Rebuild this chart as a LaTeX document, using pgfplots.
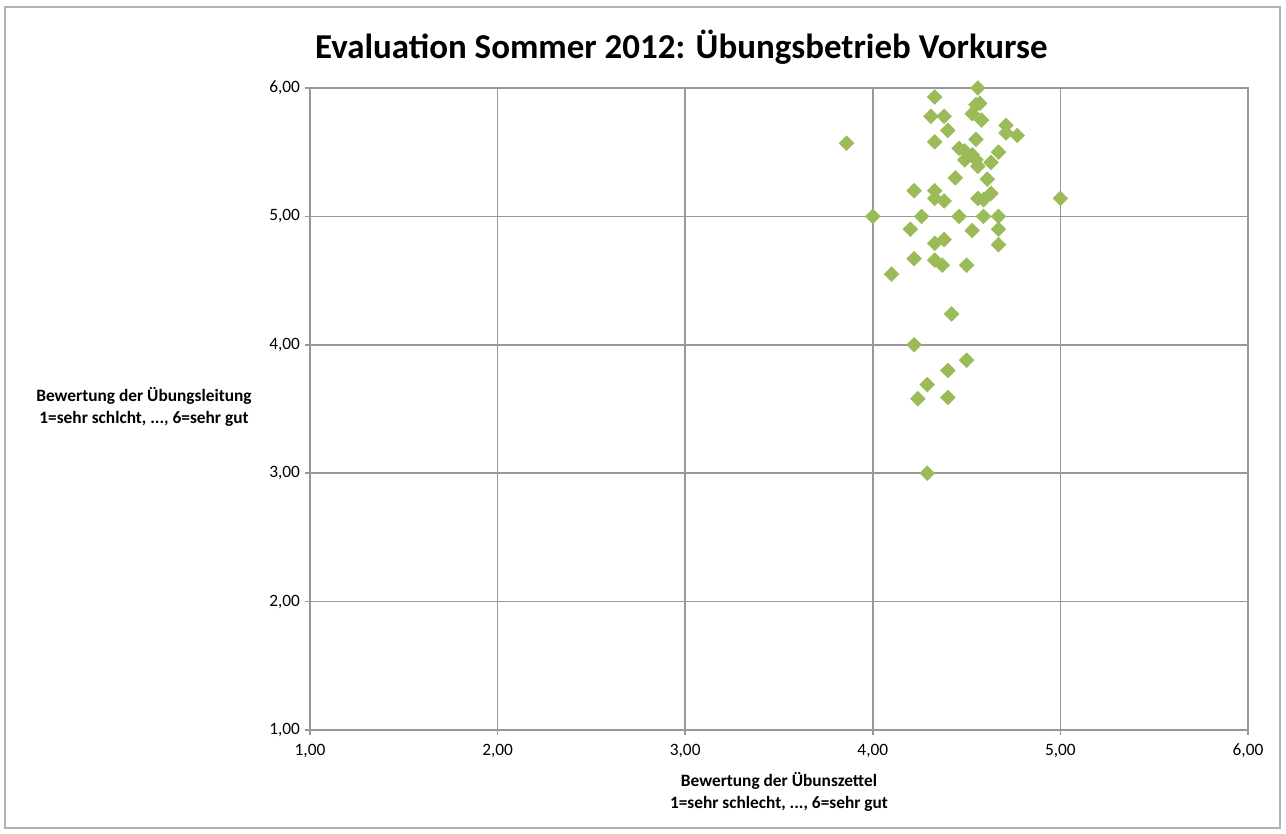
\documentclass[border=0pt]{standalone}
\usepackage{pgfplots}
\pgfplotsset{compat=1.18}
\usepackage{fontspec}
\setmainfont{Carlito}
\definecolor{pt}{HTML}{9BBB59}
\definecolor{gridc}{HTML}{989898}
\begin{document}
\begin{tikzpicture}
\useasboundingbox (0,0) rectangle (964.5pt,-625.5pt);
\draw[gray!60, line width=1pt] (3.75pt,-5.25pt) rectangle (960pt,-621pt);
\node[font=\fontsize{26.2}{30}\selectfont\bfseries] at (511pt,-35.25pt) {Evaluation Sommer 2012: Übungsbetrieb Vorkurse};
\begin{axis}[
  at={(232.5pt,-547.5pt)}, anchor=south west,
  scale only axis, width=703.5pt, height=481.5pt,
  xmin=1, xmax=6, ymin=1, ymax=6,
  xtick={1,2,3,4,5,6}, ytick={1,2,3,4,5,6},
  xticklabels={{1,00},{2,00},{3,00},{4,00},{5,00},{6,00}},
  yticklabels={{1,00},{2,00},{3,00},{4,00},{5,00},{6,00}},
  ticklabel style={font=\fontsize{13}{15}\selectfont},
  xticklabel style={yshift=-3pt},
  grid=major, major grid style={gridc, line width=1.1pt},
  axis line style={gridc, line width=1.1pt},
  tick style={gridc, line width=1.1pt},
  tick align=outside, major tick length=4pt,
  xtick pos=bottom, ytick pos=left,
  xlabel={Bewertung der Übunszettel\\1=sehr schlecht, ..., 6=sehr gut},
  xlabel style={font=\fontsize{13}{16.5}\selectfont\bfseries, align=center, at={(axis description cs:0.5,0)}, anchor=north, yshift=-28pt},
  clip=false,
]
\addplot[only marks, mark=square*, mark size=3.9pt, mark options={rotate=45, fill=pt, draw=pt}] coordinates {
(4.56,6.00) (4.33,5.93) (4.55,5.87) (4.57,5.88) (4.53,5.80) (4.58,5.75)
(4.31,5.78) (4.38,5.78) (4.40,5.67) (4.71,5.71) (4.71,5.65) (4.77,5.63)
(3.86,5.57) (4.33,5.58) (4.55,5.60) (4.46,5.53) (4.49,5.51) (4.53,5.48)
(4.49,5.44) (4.55,5.44) (4.56,5.39) (4.67,5.50) (4.63,5.42) (4.44,5.30)
(4.61,5.29) (4.22,5.20) (4.33,5.20) (4.33,5.14) (4.38,5.12) (4.63,5.18)
(4.56,5.14) (4.59,5.13) (5.00,5.14) (4.00,5.00) (4.26,5.00) (4.46,5.00)
(4.59,5.00) (4.67,5.00) (4.20,4.90) (4.53,4.89) (4.67,4.90) (4.33,4.79)
(4.38,4.82) (4.67,4.78) (4.22,4.67) (4.33,4.66) (4.37,4.62) (4.50,4.62)
(4.10,4.55) (4.42,4.24) (4.22,4.00) (4.50,3.88) (4.40,3.80) (4.29,3.69)
(4.24,3.58) (4.40,3.59) (4.29,3.00)
};
\end{axis}
\node[font=\fontsize{13}{16}\selectfont\bfseries, align=center] at (108pt,-305.25pt) {Bewertung der Übungsleitung\\1=sehr schlcht, ..., 6=sehr gut};
\end{tikzpicture}
\end{document}
